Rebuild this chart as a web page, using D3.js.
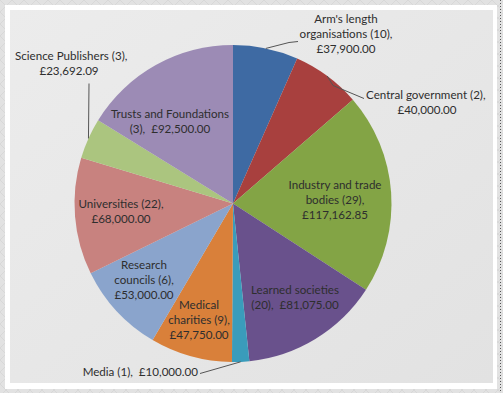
<!DOCTYPE html>
<html>
<head>
<meta charset="utf-8">
<script src="https://cdn.jsdelivr.net/npm/d3@7"></script>
<style>
  body { margin: 0; background: #e3e3e3; }
  svg { display: block; }
  text { font-family: Lato, "Open Sans", sans-serif; font-size: 11.6px; fill: #2e2e2e; white-space: pre; }
</style>
</head>
<body>
<div id="chart"></div>
<script>
// data
var categories = ["Arm's length organisations", "Central government", "Industry and trade bodies",
  "Learned societies", "Media", "Medical charities", "Research councils", "Universities",
  "Science Publishers", "Trusts and Foundations"];
var counts = [10, 2, 29, 20, 1, 9, 6, 22, 3, 3];
var amounts = [37900.00, 40000.00, 117162.85, 81075.00, 10000.00, 47750.00, 53000.00, 68000.00, 23692.09, 92500.00];
var colors = ["#3e6aa3", "#a8403e", "#83a445", "#69518c", "#3a9cbb", "#d9803a", "#8aa4cc", "#c8827f", "#abc57f", "#9c8bb5"];

// label lines (text split like the original)
var labelLines = [
  ["Arm's length", "organisations (10),", "£37,900.00"],
  ["Central government (2),", "£40,000.00"],
  ["Industry and trade", "bodies (29),", "£117,162.85"],
  ["Learned societies", "(20),  £81,075.00"],
  ["Media (1),  £10,000.00"],
  ["Medical", "charities (9),", "£47,750.00"],
  ["Research", "councils (6),", "£53,000.00"],
  ["Universities (22),", "£68,000.00"],
  ["Science Publishers (3),", "£23,692.09"],
  ["Trusts and Foundations", "(3),  £92,500.00"]
];

var width = 503, height = 393;
var cx = 233, cy = 203.5, radius = 158.5;

// label layout: first line anchor, relative to pie centre
var labelLayout = [
  {x: 113, y: -181, anchor: "middle"},
  {x: 133, y: -105, anchor: "start", second: {x: 194}},
  {x: 102, y: -15, anchor: "middle"},
  {x: 62, y: 90, anchor: "middle"},
  {x: -35, y: 172, anchor: "end"},
  {x: -34, y: 105, anchor: "middle"},
  {x: -89, y: 65, anchor: "middle"},
  {x: -112, y: 4, anchor: "middle"},
  {x: -164, y: -144, anchor: "middle", first: {x: -218, anchor: "start"}},
  {x: -63, y: -86, anchor: "middle"}
];
// leader lines: bend points relative to pie centre
var leaders = {
  0: [[56, -161], [65, -162]],
  1: [[100, -118], [131, -105]],
  4: [[-33, 170], [-33, 170]],
  8: [[-144, -120], [-144, -120]]
};

var svg = d3.select("#chart").append("svg")
  .attr("width", width)
  .attr("height", height);

var defs = svg.append("defs");
var pat = defs.append("pattern")
  .attr("id", "hatch")
  .attr("width", 12).attr("height", 12)
  .attr("patternUnits", "userSpaceOnUse");
pat.append("rect").attr("width", 12).attr("height", 12).attr("fill", "#e2e2e2");
pat.append("path").attr("d", "M0,0L12,12M12,0L0,12")
  .attr("stroke", "#d6d6d6").attr("stroke-width", 0.8);

var grad = defs.append("linearGradient")
  .attr("id", "panel")
  .attr("x1", "0").attr("y1", "0").attr("x2", "1").attr("y2", "1");
grad.append("stop").attr("offset", "0").attr("stop-color", "#ececec");
grad.append("stop").attr("offset", "1").attr("stop-color", "#e2e2e2");

svg.append("rect").attr("width", width).attr("height", height).attr("fill", "url(#hatch)");
svg.append("rect").attr("x", 5).attr("y", 5).attr("width", 492).attr("height", 384).attr("fill", "#ffffff");
svg.append("rect").attr("x", 10).attr("y", 10).attr("width", 483).attr("height", 373).attr("fill", "url(#panel)");
svg.append("line")
  .attr("x1", 500.5).attr("y1", 0).attr("x2", 500.5).attr("y2", height)
  .attr("stroke", "#555").attr("stroke-dasharray", "1,2");

var data = categories.map(function(c, i) {
  return {name: c, count: counts[i], amount: amounts[i], color: colors[i], lines: labelLines[i], i: i};
});

var pie = d3.pie()
  .sort(null)
  .value(function(d) { return d.amount; });

var arc = d3.arc()
  .innerRadius(0)
  .outerRadius(radius);

var g = svg.append("g").attr("transform", "translate(" + cx + "," + cy + ")");

var arcs = pie(data);

g.selectAll("path.slice")
  .data(arcs)
  .enter()
  .append("path")
  .attr("class", "slice")
  .attr("d", arc)
  .attr("fill", function(d) { return d.data.color; });

// leader lines from the arc edge
g.selectAll("polyline.leader")
  .data(arcs.filter(function(d) { return leaders[d.data.i]; }))
  .enter()
  .append("polyline")
  .attr("class", "leader")
  .attr("points", function(d) {
    var a = (d.startAngle + d.endAngle) / 2;
    var p0 = [radius * Math.sin(a), -radius * Math.cos(a)];
    var pts = [p0].concat(leaders[d.data.i]);
    return pts.map(function(p) { return p.join(","); }).join(" ");
  })
  .attr("fill", "none")
  .attr("stroke", "#555")
  .attr("stroke-width", 1);

// labels
var lineH = 15;
arcs.forEach(function(d) {
  var lay = labelLayout[d.data.i];
  d.data.lines.forEach(function(line, k) {
    var x = lay.x, anchor = lay.anchor;
    if (k === 0 && lay.first) { x = lay.first.x; anchor = lay.first.anchor; }
    if (k === 1 && lay.second) { x = lay.second.x; anchor = "middle"; }
    g.append("text")
      .attr("x", x)
      .attr("y", lay.y + k * lineH)
      .attr("text-anchor", anchor)
      .text(line);
  });
});
</script>
</body>
</html>
